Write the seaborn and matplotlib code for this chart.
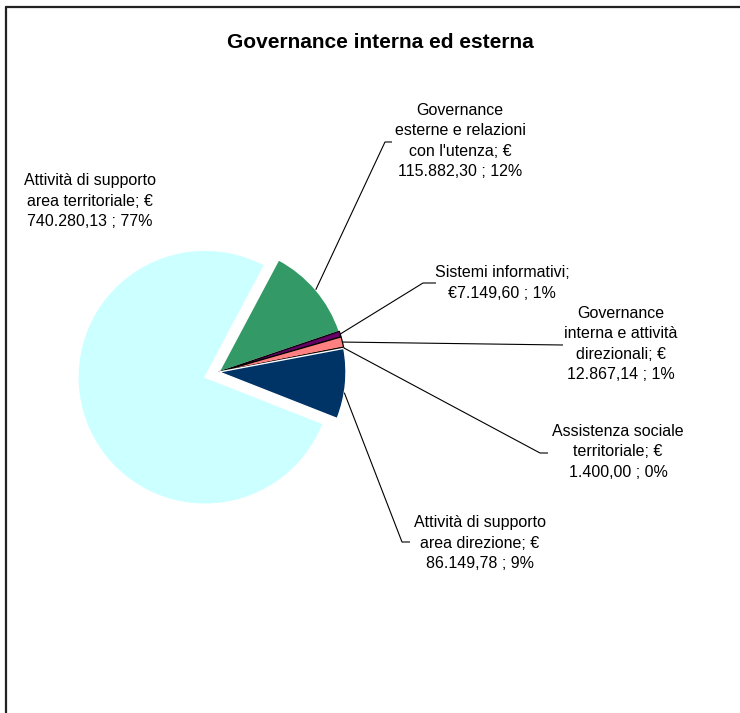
import numpy as np
import matplotlib
matplotlib.use("Agg")
import matplotlib.pyplot as plt
from matplotlib.lines import Line2D
import seaborn as sns

# data, in clockwise order starting from the green slice
categories = [
    "Governance esterne e relazioni con l'utenza",
    "Sistemi informativi",
    "Governance interna e attività direzionali",
    "Assistenza sociale territoriale",
    "Attività di supporto area direzione",
    "Attività di supporto area territoriale",
]
values = [115882.30, 7149.60, 12867.14, 1400.00, 86149.78, 740280.13]
labels = [
    "Governance\nesterne e relazioni\ncon l'utenza; €\n115.882,30 ; 12%",
    "Sistemi informativi;\n€7.149,60 ; 1%",
    "Governance\ninterna e attività\ndirezionali; €\n12.867,14 ; 1%",
    "Assistenza sociale\nterritoriale; €\n1.400,00 ; 0%",
    "Attività di supporto\narea direzione; €\n86.149,78 ; 9%",
    "Attività di supporto\narea territoriale; €\n740.280,13 ; 77%",
]
colors = ["#339966", "#660066", "#FF8080", "#FF0000", "#003366", "#CCFFFF"]

sns.set_theme(style="white")
plt.rcParams["font.family"] = ["Liberation Sans", "DejaVu Sans"]
plt.rcParams["text.color"] = "black"

W, H = 740, 713
fig = plt.figure(figsize=(W / 100, H / 100), dpi=100)
ax = fig.add_axes([0, 0, 1, 1])

# pie in pixel-like coordinates (y measured from bottom)
cx, cy, r = 219, H - 372, 127
wedges, _ = ax.pie(
    values,
    colors=colors,
    startangle=62,
    counterclock=False,
    radius=r,
    center=(cx, cy),
    explode=[0, 0, 0, 0, 0, 15],
    wedgeprops=dict(linewidth=1, edgecolor="white"),
)
for w in wedges[1:4]:
    w.set_edgecolor("black")
    w.set_linewidth(0.9)

ax.set_xlim(0, W)
ax.set_ylim(0, H)
ax.set_aspect("equal")
ax.axis("off")

# label positions (center of text) and leader elbows, in pixels from top
label_pos = [(460, 141), (502, 283), (621, 344), (618, 452), (480, 543), (90, 201)]
elbows = [
    [(385, 142), (392, 142)],
    [(423, 283), (436, 283)],
    [(563, 345)],
    [(540, 453), (548, 453)],
    [(402, 542), (410, 542)],
    None,
]
# the navy leader attaches a little below the slice middle
attach_shift = [0, 0, 0, 0, -4, 0]

for w, lab, pos, elb, sh in zip(wedges, labels, label_pos, elbows, attach_shift):
    ax.text(pos[0], H - pos[1], lab, ha="center", va="center",
            fontsize=11.5, linespacing=1.42, color="black")
    if elb is None:
        continue
    mid = np.deg2rad((w.theta1 + w.theta2) / 2 + sh)
    xs = [cx + r * np.cos(mid)] + [p[0] for p in elb]
    ys = [cy + r * np.sin(mid)] + [H - p[1] for p in elb]
    ax.plot(xs, ys, color="black", linewidth=0.8, solid_capstyle="butt")

fig.text(380 / W, 1 - 42 / H, "Governance interna ed esterna",
         ha="center", va="center", fontsize=15, fontweight="bold", color="black")

# chart frame (left and top edges visible)
fig.add_artist(Line2D([6 / W, 6 / W], [0, 1 - 7 / H], color="#222222", linewidth=1.6,
                      transform=fig.transFigure))
fig.add_artist(Line2D([6 / W, 1], [1 - 7 / H, 1 - 7 / H], color="#222222", linewidth=1.6,
                      transform=fig.transFigure))

fig.savefig("out.png", dpi=100)
